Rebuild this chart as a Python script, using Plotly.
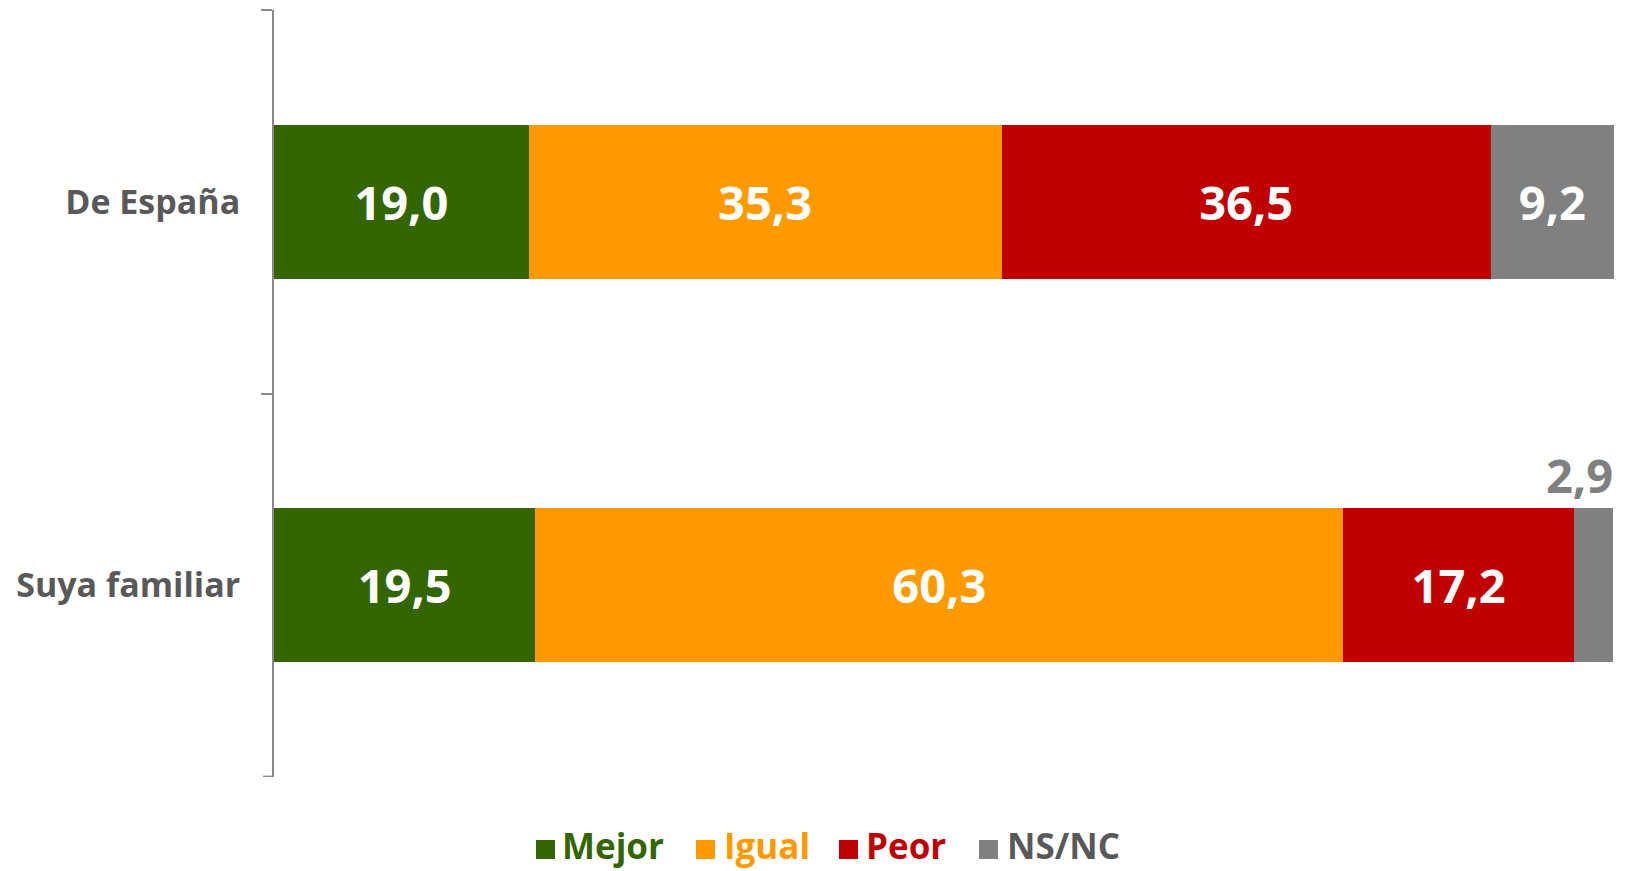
import plotly.graph_objects as go

categories = ["De España", "Suya familiar"]
series_names = ["Mejor", "Igual", "Peor", "NS/NC"]
mejor = [19.0, 19.5]
igual = [35.3, 60.3]
peor = [36.5, 17.2]
nsnc = [9.2, 2.9]
colors = ["#336600", "#FF9900", "#C00000", "#808080"]
legend_text_colors = ["#336600", "#FF9900", "#C00000", "#595959"]

values = [mejor, igual, peor, nsnc]
FONT = "Open Sans"

W, H = 1625, 863
ML, MR, MT, MB = 266, 19, 2, 94
PW, PH = W - ML - MR, H - MT - MB

def fmt(v):
    return f"{v:.1f}".replace(".", ",")

def px_x(fx):
    return (fx - ML) / PW

def px_y(fy):
    return (H - MB - fy) / PH

fig = go.Figure()
for name, vals, col in zip(series_names, values, colors):
    texts = [fmt(v) if v >= 5 else "" for v in vals]
    fig.add_trace(go.Bar(
        y=categories, x=vals, orientation="h",
        name=name, showlegend=False,
        marker=dict(color=col, line=dict(width=0)),
        text=texts, textposition="inside", insidetextanchor="middle",
        textfont=dict(family=FONT, size=47, color="white", weight="bold"),
        textangle=0, constraintext="none",
        hoverinfo="skip",
    ))

# small-value labels above their bars
for si, (vals, col) in enumerate(zip(values, colors)):
    for i, v in enumerate(vals):
        if v < 5:
            end = sum(values[k][i] for k in range(si + 1))
            fig.add_annotation(
                x=end, y=categories[i], xref="x", yref="y",
                text=fmt(v), showarrow=False, xanchor="right", yanchor="middle",
                yshift=110, xshift=2,
                font=dict(family=FONT, size=47, color=col, weight="bold"),
            )

# closing tick at the bottom category boundary
fig.add_shape(type="line", xref="paper", yref="y",
              x0=-11 / PW, x1=0, y0=len(categories) - 0.5, y1=len(categories) - 0.5,
              line=dict(color="#898989", width=2))

# legend (swatch + coloured label) below the plot
sw_left = [528, 688, 831, 971]
txt_left = [553, 715, 857, 998]
SW = 19
sw_top = 832
for name, col, lcol, sx, tx in zip(series_names, colors, legend_text_colors, sw_left, txt_left):
    fig.add_shape(type="rect", xref="paper", yref="paper",
                  x0=px_x(sx), x1=px_x(sx + SW), y0=px_y(sw_top + SW), y1=px_y(sw_top),
                  fillcolor=col, line=dict(width=0))
    fig.add_annotation(xref="paper", yref="paper", x=px_x(tx), y=px_y(H - 1),
                       text=name, showarrow=False, xanchor="left", yanchor="bottom",
                       borderpad=0,
                       font=dict(family=FONT, size=35, color=lcol, weight="bold"))

fig.update_layout(
    template="none",
    width=W, height=H,
    barmode="stack", bargap=0.6,
    plot_bgcolor="white", paper_bgcolor="white",
    margin=dict(l=ML, r=MR, t=MT, b=MB, autoexpand=False),
    font=dict(family=FONT, color="#595959", weight="bold"),
    showlegend=False,
    xaxis=dict(range=[0, 100], visible=False, fixedrange=True, automargin=False),
    yaxis=dict(
        type="category", categoryorder="array", categoryarray=categories,
        range=[1.501, -0.501], automargin=False,
        showline=True, linecolor="#898989", linewidth=2,
        ticks="outside", ticklen=11, tickcolor="#898989", tickwidth=2,
        tickson="boundaries", showgrid=False, zeroline=False,
        tickfont=dict(family=FONT, size=34, color="#595959", weight="bold"),
        ticklabelstandoff=25,
    ),
)

fig.write_html("out.html")
